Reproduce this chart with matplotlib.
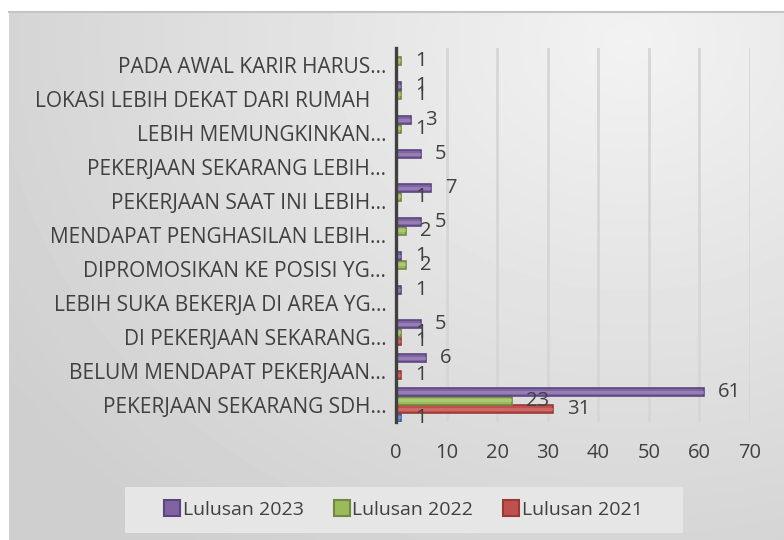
import numpy as np
import matplotlib
matplotlib.use("Agg")
import matplotlib.pyplot as plt
from matplotlib.lines import Line2D
from matplotlib.patches import Rectangle

plt.rcParams['font.family'] = ['Open Sans', 'DejaVu Sans']

categories = [
    "PEKERJAAN SEKARANG SDH...",
    "BELUM MENDAPAT PEKERJAAN...",
    "DI PEKERJAAN SEKARANG...",
    "LEBIH SUKA BEKERJA DI AREA YG...",
    "DIPROMOSIKAN KE POSISI YG...",
    "MENDAPAT PENGHASILAN LEBIH...",
    "PEKERJAAN SAAT INI LEBIH...",
    "PEKERJAAN SEKARANG LEBIH...",
    "LEBIH MEMUNGKINKAN...",
    "LOKASI LEBIH DEKAT DARI RUMAH   ",
    "PADA AWAL KARIR HARUS...",
]
series_names = ["", "Lulusan 2021", "Lulusan 2022", "Lulusan 2023"]
s_blue = [1, None, None, None, None, None, None, None, None, None, None]
s_2021 = [31, 1, 1, None, None, None, None, None, None, None, None]
s_2022 = [23, None, 1, None, 2, 2, 1, None, 1, 1, 1]
s_2023 = [61, 6, 5, 1, 1, 5, 7, 5, 3, 1, None]
xticks = [0, 10, 20, 30, 40, 50, 60, 70]

colors = ["#4f81bd", "#c0504d", "#9bbb59", "#8064a2"]
edges = ["#3a6496", "#9a3a37", "#71893f", "#5c4680"]
highlights = ["#7aa3d6", "#d47a77", "#b7d28a", "#a58fc4"]
text_c = "#404040"

W, H = 784, 540
fig = plt.figure(figsize=(W/100, H/100), dpi=100, facecolor="white")

# background gradient
bg = fig.add_axes([9/W, 0, 1-9/W, (H-12)/H], zorder=-5)
yy, xx = np.mgrid[0:528, 0:775]
d = np.sqrt(((xx-620)/1.0)**2 + ((yy-30)*1.2)**2)
val = 0.95 - 0.14*np.clip(d/750, 0, 1)
bg.imshow(val, cmap="gray", vmin=0, vmax=1, aspect="auto", interpolation="bilinear")
bg.set_axis_off()
fig.add_artist(Line2D([9/W, 1], [(H-12)/H]*2, color="#c4c4c4", lw=1.5, transform=fig.transFigure))

# legend background panel
fig.add_artist(Rectangle((125/W, 1-533/H), (683-125)/W, 46/H, transform=fig.transFigure,
                         facecolor="#e6e6e6", edgecolor="none", zorder=-1))

ax = fig.add_axes([396/W, (H-422)/H, (750-396)/W, (422-48)/H])
ax.patch.set_alpha(0)
series = [s_blue, s_2021, s_2022, s_2023]
step = 0.25
for i, s in enumerate(series):
    for c, v in enumerate(s):
        if v is None:
            continue
        y = c + (i-1.5)*step
        ax.barh(y, v, height=0.23, color=colors[i], edgecolor=edges[i], linewidth=1.2, zorder=3)
        ax.barh(y, v, height=0.08, color=highlights[i], linewidth=0, zorder=4, alpha=0.6)
        ax.annotate(str(v), (v, y), xytext=(10, 0), textcoords="offset points",
                    ha="left", va="center", fontsize=14.5, color=text_c, zorder=5)

ax.set_xlim(0, 70)
ax.set_ylim(-0.5, len(categories)-0.5)
ax.set_xticks(xticks)
ax.set_xticklabels([str(t) for t in xticks])
ax.set_yticks(range(len(categories)))
ax.set_yticklabels(categories)
ax.tick_params(axis="x", length=0, pad=15, labelsize=14.5, labelcolor=text_c)
ax.tick_params(axis="y", length=0, pad=7, labelsize=15, labelcolor=text_c)
for t in xticks[1:]:
    ax.axvline(t, color="#d6d6d6", lw=2, zorder=1)
for sp in ["top", "right", "bottom"]:
    ax.spines[sp].set_visible(False)
ax.spines["left"].set_color("#404040")
ax.spines["left"].set_linewidth(2.4)
ax.spines["left"].set_zorder(6)

handles = [Line2D([], [], marker="s", ls="", markersize=12, markerfacecolor=colors[k],
                  markeredgecolor=edges[k], markeredgewidth=1.5) for k in [3, 2, 1]]
leg = fig.legend(handles, [series_names[k] for k in [3, 2, 1]], loc="center",
                 bbox_to_anchor=(404/W, 1-510/H), ncol=3, frameon=False,
                 fontsize=14, handlelength=0.7, handletextpad=0.2, columnspacing=1.6,
                 borderpad=0.6, labelcolor=text_c)

fig.savefig("out.png", dpi=100, facecolor="white")
